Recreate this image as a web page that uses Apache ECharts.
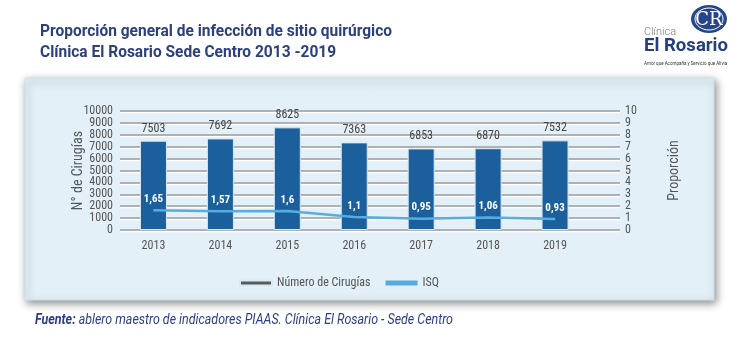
<!DOCTYPE html>
<html><head><meta charset="utf-8">
<script src="https://cdn.jsdelivr.net/npm/echarts@6/dist/echarts.min.js"></script>
<style>html,body{margin:0;padding:0;background:#fff}#c{width:750px;height:341px}</style>
</head><body><div id="c"></div>
<script>
const years = ['2013','2014','2015','2016','2017','2018','2019'];
const cirugias = [7503, 7692, 8625, 7363, 6853, 6870, 7532];
const isq = [1.65, 1.57, 1.6, 1.1, 0.95, 1.06, 0.93];
const seriesNames = ['Número de Cirugías', 'ISQ'];
const titleLines = ['Proporción general de infección de sitio quirúrgico', 'Clínica El Rosario Sede Centro 2013 -2019'];
const sourceBold = 'Fuente:';
const sourceText = ' ablero maestro de indicadores PIAAS. Clínica El Rosario - Sede Centro';

const FF = "'Liberation Sans Narrow','Roboto Condensed',Roboto,sans-serif";
const ctx = document.createElement('canvas').getContext('2d');
function w(text, font){ ctx.font = font; return ctx.measureText(text).width; }
const titleFont = "bold 17px Roboto";
const tScale1 = 352 / w(titleLines[0], titleFont);
const fbFont = "italic bold 14px Roboto";
const fiFont = "italic 14px Roboto";
const fScale = 418 / (w(sourceBold, fbFont) + w(sourceText, fiFont));
const logoFont = "bold 19px Roboto";
const lScale = 84 / w('El Rosario', logoFont);

const chart = echarts.init(document.getElementById('c'));
const gridLine = {color:'#9c9c9c', width:1.5, shadowColor:'#ffffff', shadowOffsetY:1.5, shadowBlur:0};
chart.setOption({
  backgroundColor:'#ffffff',
  animation:false,
  graphic:[
    {type:'rect', z:-1, shape:{x:25,y:78,width:689,height:222},
     style:{fill:'#e3f0f7', stroke:'#c9e3ec', lineWidth:1, shadowBlur:8, shadowColor:'rgba(0,0,0,0.45)', shadowOffsetX:2, shadowOffsetY:3}},
    {type:'text', x:40, y:32, scaleX:tScale1, style:{text:titleLines[0], font:titleFont, fill:'#2c3f7e', verticalAlign:'middle', align:'left'}},
    {type:'text', x:40, y:53, scaleX:tScale1, style:{text:titleLines[1], font:titleFont, fill:'#2c3f7e', verticalAlign:'middle', align:'left'}},
    {type:'text', x:35, y:320, scaleX:fScale, style:{text:'{b|'+sourceBold+'}{i|'+sourceText+'}', verticalAlign:'middle', align:'left',
      rich:{b:{font:fbFont, fill:'#2b3d8c'}, i:{font:fiFont, fill:'#2b3d8c'}}}},
    {type:'ellipse', shape:{cx:709, cy:19, rx:18, ry:14}, style:{fill:'#26468a'}},
    {type:'ellipse', shape:{cx:709, cy:19, rx:14, ry:11}, style:{fill:'none', stroke:'#ffffff', lineWidth:1}},
    {type:'text', x:709, y:20, style:{text:'CR', font:'18px "DejaVu Serif"', fill:'#ffffff', align:'center', verticalAlign:'middle'}},
    {type:'text', x:644, y:32, style:{text:'Clínica', font:'300 11px Roboto', fill:'#7a7a7a', verticalAlign:'middle'}},
    {type:'text', x:644, y:46, scaleX:lScale, style:{text:'El Rosario', font:logoFont, fill:'#243f7c', verticalAlign:'middle'}},
    {type:'text', x:644, y:64, style:{text:'Amor que Acompaña y Servicio que Alivia', font:'4.5px Roboto', fill:'#333', verticalAlign:'middle'}}
  ],
  legend:{
    data:[{name:seriesNames[0], itemStyle:{color:'#5a5a5a'}}, {name:seriesNames[1], itemStyle:{color:'#5aa9de'}}],
    icon:'rect', itemWidth:32, itemHeight:5, itemGap:15, left:234, top:272,
    textStyle:{color:'#555', fontSize:12, fontFamily:FF}
  },
  grid:[{left:120, right:130, top:111, bottom:111}, {left:120, right:161.5, top:111, bottom:111}],
  xAxis:[
    {gridIndex:0, type:'value', show:false, min:0, max:1},
    {gridIndex:1, type:'category', data:years, axisLine:{show:false}, axisTick:{show:false},
     axisLabel:{color:'#555', fontSize:12, margin:10, fontFamily:FF}}
  ],
  yAxis:[
    {gridIndex:0, type:'value', min:0, max:10000, interval:1000, position:'left',
     name:'N° de Cirugías', nameLocation:'middle', nameGap:35, nameMoveOverlap:false, nameTextStyle:{color:'#555', fontSize:14, fontFamily:FF},
     axisLine:{show:false}, axisTick:{show:false},
     axisLabel:{color:'#555', fontSize:12, margin:7, fontFamily:FF, formatter:v=>String(v)},
     splitLine:{show:true, lineStyle:gridLine}},
    {gridIndex:0, type:'value', min:0, max:10, interval:1, position:'right',
     name:'Proporción', nameLocation:'middle', nameGap:47, nameMoveOverlap:false, nameTextStyle:{color:'#555', fontSize:14, fontFamily:FF},
     axisLine:{show:false}, axisTick:{show:false},
     axisLabel:{color:'#555', fontSize:12, margin:5, fontFamily:FF},
     splitLine:{show:false}},
    {gridIndex:1, type:'value', min:0, max:10000, show:false, splitLine:{show:false}},
    {gridIndex:1, type:'value', min:0, max:10, show:false, splitLine:{show:false}}
  ],
  series:[
    {name:seriesNames[0], type:'bar', xAxisIndex:1, yAxisIndex:2, data:cirugias, barWidth:27,
     itemStyle:{color:'#1c5f9d', borderColor:'#d6e9f4', borderWidth:1},
     label:{show:true, position:'top', distance:6, color:'#444', fontSize:12, fontFamily:FF}},
    {name:seriesNames[1], type:'line', xAxisIndex:1, yAxisIndex:3, data:isq, symbol:'circle', symbolSize:1, showSymbol:true,
     lineStyle:{color:'#58ade0', width:2.5}, itemStyle:{color:'#58ade0'}, z:5,
     label:{show:true, position:'top', distance:5, color:'#ffffff', fontSize:11, fontWeight:'bold', fontFamily:FF,
       formatter:p=>String(p.value).replace('.', ',')}}
  ]
});
</script></body></html>
